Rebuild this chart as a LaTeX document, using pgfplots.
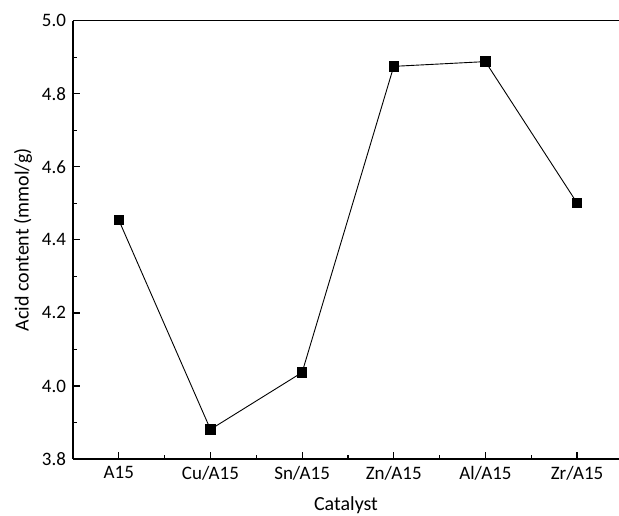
\documentclass[border=0pt]{standalone}
\usepackage{fontspec}
\setmainfont{Carlito}
\usepackage{pgfplots}
\pgfplotsset{compat=1.18}

\begin{document}
\begin{tikzpicture}
% fixed frame of the figure (plot area origin at lower-left of the axis)
\path[use as bounding box] (-36.5pt,-28pt) rectangle (273pt,229.5pt);
\begin{axis}[
  at={(0,0)}, anchor=origin,
  scale only axis,
  width=273pt, height=219.15pt,
  xmin=0.5, xmax=6.458,
  ymin=3.8, ymax=5.0,
  axis x line=box, axis y line=left,
  axis line style={-, line width=0.65pt},
  xtick={1,2,3,4,5,6},
  xticklabels={A15, Cu/A15, Sn/A15, Zn/A15, Al/A15, Zr/A15},
  minor xtick={1.5,2.5,3.5,4.5,5.5},
  ytick={3.8,4.0,4.2,4.4,4.6,4.8,5.0},
  minor ytick={3.9,4.1,4.3,4.5,4.7,4.9},
  xtick pos=bottom, ytick pos=left,
  tick align=inside,
  major tick length=3.3pt, minor tick length=2pt,
  every tick/.style={black, line width=0.6pt},
  yticklabel style={/pgf/number format/.cd, fixed, fixed zerofill, precision=1},
  /pgf/number format/assume math mode=true,
  tick label style={font=\fontsize{9.5pt}{11pt}\selectfont},
  label style={font=\fontsize{10pt}{12pt}\selectfont},
  xlabel={Catalyst},
  ylabel={Acid content (mmol/g)},
  xlabel style={yshift=-1.5pt},
  ylabel style={yshift=-2pt},
  clip=false,
]
\addplot[black, line width=0.45pt, mark=square*, mark size=2.4pt,
  mark options={solid, fill=black}]
  coordinates {
    (1,4.454)
    (2,3.881)
    (3,4.037)
    (4,4.875)
    (5,4.888)
    (6,4.501)
  };
\end{axis}
\end{tikzpicture}
\end{document}
